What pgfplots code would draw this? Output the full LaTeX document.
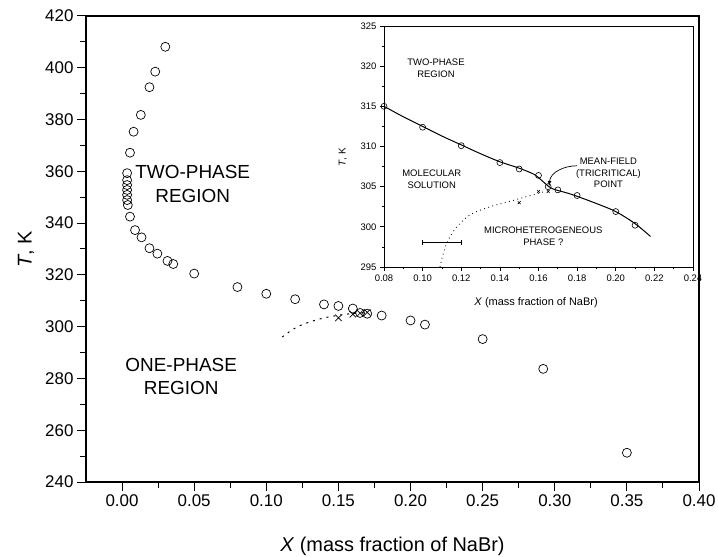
\documentclass[border=0pt]{standalone}
\usepackage{fontspec}
\setmainfont{Liberation Sans}
\usepackage{pgfplots}
\pgfplotsset{compat=1.18}

\begin{document}
\begin{tikzpicture}
\useasboundingbox (-86bp,-75bp) rectangle (632bp,482bp);

% main diagram
\begin{axis}[
    scale only axis,
    width=613bp, height=466bp,
    xmin=-0.025, xmax=0.40,
    ymin=240, ymax=420,
    xtick={0,0.05,0.10,0.15,0.20,0.25,0.30,0.35,0.40},
    ytick={240,260,280,300,320,340,360,380,400,420},
    minor x tick num=1, minor y tick num=1,
    xtick pos=bottom, ytick pos=left,
    tick align=outside,
    major tick length=9bp, minor tick length=6bp,
    axis line style={line width=1.2bp},
    every tick/.style={black, line width=1bp},
    /pgf/number format/assume math mode=true,
    tick label style={font=\fontsize{17}{20}\selectfont},
    x tick label style={/pgf/number format/.cd, fixed, fixed zerofill, precision=2},
    xlabel={\textit{X} (mass fraction of NaBr)},
    ylabel={\textit{T}, K},
    xlabel style={font=\fontsize{20}{24}\selectfont, at={(axis description cs:0.5,-0.139)}, anchor=center},
    ylabel style={font=\fontsize{20}{24}\selectfont, at={(axis description cs:-0.098,0.5)}, anchor=center},
]
\addplot[only marks, mark=o, mark size=4.5bp, mark options={line width=0.7bp}] coordinates {
    (0.030,408.1) (0.023,398.5) (0.019,392.5) (0.013,381.8) (0.008,375.3)
    (0.0055,367.2) (0.0035,359.3) (0.0035,356.6) (0.0035,354.7) (0.0035,352.8)
    (0.0035,350.9) (0.0035,348.9) (0.0040,347.0) (0.0055,342.5) (0.0090,337.3)
    (0.0135,334.5) (0.0190,330.3) (0.0245,328.2) (0.0315,325.4) (0.0355,324.2)
    (0.050,320.5) (0.080,315.3) (0.100,312.7) (0.120,310.6) (0.140,308.6)
    (0.150,308.0) (0.160,307.0) (0.165,305.3) (0.170,305.0) (0.180,304.3)
    (0.200,302.4) (0.210,300.8) (0.250,295.2) (0.292,283.7) (0.350,251.3)
};
\addplot[only marks, mark=x, mark size=4.5bp, mark options={line width=0.7bp}] coordinates {
    (0.150,303.4) (0.160,304.8) (0.165,305.2) (0.170,305.5)
};
\addplot[no marks, smooth, line width=1bp, dash pattern=on 2bp off 5bp] coordinates {
    (0.111,296.0) (0.118,298.8) (0.125,300.8) (0.133,302.3) (0.140,303.4)
    (0.150,304.4) (0.160,305.1) (0.170,305.5)
};
\node[align=center, font=\fontsize{19}{24}\selectfont] at (axis cs:0.049,355.0) {TWO-PHASE\\REGION};
\node[align=center, font=\fontsize{19}{23}\selectfont] at (axis cs:0.041,280.6) {ONE-PHASE\\REGION};
\end{axis}

% inset
\begin{axis}[
    at={(298bp,215bp)}, anchor=south west,
    scale only axis,
    width=309bp, height=241bp,
    xmin=0.08, xmax=0.24,
    ymin=295, ymax=325,
    xtick={0.08,0.10,0.12,0.14,0.16,0.18,0.20,0.22,0.24},
    ytick={295,300,305,310,315,320,325},
    minor x tick num=1, minor y tick num=1,
    xtick pos=bottom, ytick pos=left,
    tick align=outside,
    major tick length=4bp, minor tick length=2.5bp,
    axis line style={line width=0.8bp},
    every tick/.style={black, line width=0.7bp},
    /pgf/number format/assume math mode=true,
    tick label style={font=\fontsize{9.5}{11}\selectfont},
    x tick label style={/pgf/number format/.cd, fixed, fixed zerofill, precision=2},
    xlabel={\textit{X} (mass fraction of NaBr)},
    ylabel={\textit{T}, K},
    xlabel style={font=\fontsize{11}{13}\selectfont, at={(axis description cs:0.492,-0.149)}, anchor=center},
    ylabel style={font=\fontsize{10}{12}\selectfont, at={(axis description cs:-0.133,0.456)}, anchor=center},
]
\addplot[no marks, smooth, line width=1bp] coordinates {
    (0.080,315.0) (0.090,313.7) (0.100,312.5) (0.110,311.3) (0.120,310.2)
    (0.130,309.1) (0.140,308.1) (0.150,307.3) (0.158,306.5) (0.162,305.7)
    (0.166,304.9) (0.169,304.6) (0.175,304.2) (0.180,303.8) (0.190,302.9)
    (0.200,301.9) (0.210,300.4) (0.218,298.8)
};
\addplot[only marks, mark=o, mark size=3bp, mark options={line width=0.6bp}] coordinates {
    (0.08,315.0) (0.10,312.4) (0.12,310.1) (0.14,308.0) (0.15,307.2)
    (0.16,306.4) (0.165,305.0) (0.17,304.6) (0.18,303.9) (0.20,301.9) (0.21,300.2)
};
\addplot[only marks, mark=x, mark size=2bp, mark options={line width=0.6bp}] coordinates {
    (0.150,303.0) (0.160,304.4) (0.165,304.4)
};
\addplot[no marks, smooth, line width=0.9bp, dash pattern=on 0.8bp off 3.5bp] coordinates {
    (0.109,295.0) (0.1107,296.7) (0.1133,298.4) (0.1177,300.0) (0.1246,301.5)
    (0.1349,302.5) (0.147,303.3) (0.1573,304.0) (0.1634,304.4)
};
\addplot[no marks, draw=none, error bars/.cd, x dir=both, x explicit,
    error bar style={line width=0.8bp}, error mark options={rotate=90, mark size=2.5bp, line width=0.8bp}]
    coordinates {(0.11,298.0) +- (0.01,0)};
\node[align=center, font=\fontsize{9.5}{12}\selectfont] at (axis cs:0.1069,319.7) {TWO-PHASE\\REGION};
\node[align=center, font=\fontsize{9.5}{12}\selectfont] at (axis cs:0.1047,305.9) {MOLECULAR\\SOLUTION};
\node[align=center, font=\fontsize{9.5}{11.5}\selectfont] at (axis cs:0.1962,306.7) {MEAN-FIELD\\(TRICRITICAL)\\POINT};
\node[align=center, font=\fontsize{9.5}{12.5}\selectfont] at (axis cs:0.1625,298.8) {MICROHETEROGENEOUS\\PHASE ?};
\draw[-latex, line width=0.7bp] (axis cs:0.180,307.6) to[out=180, in=85] (axis cs:0.1655,305.1);
\end{axis}
\end{tikzpicture}
\end{document}
